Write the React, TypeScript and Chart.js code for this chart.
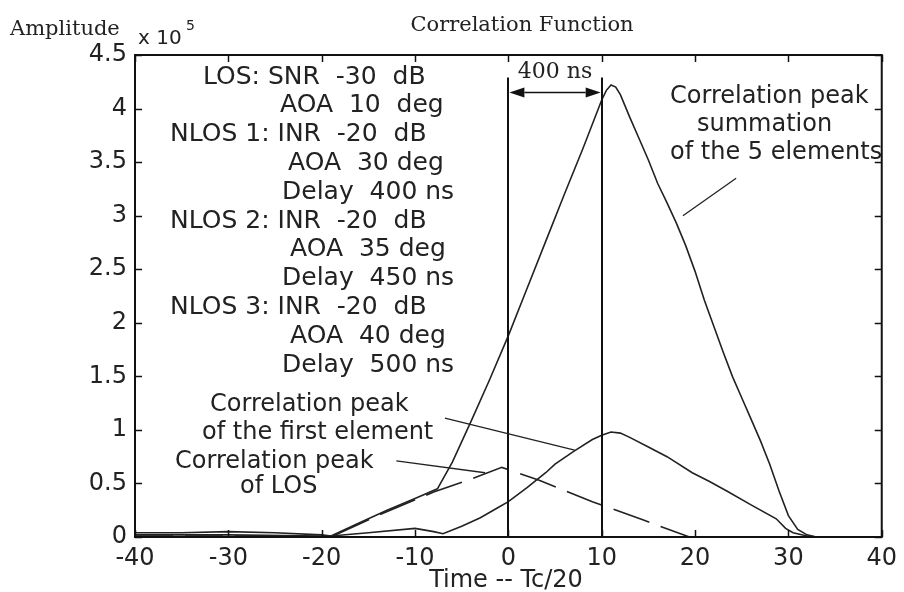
import React, { useEffect, useRef } from "react";
import { Chart, registerables } from "chart.js";

Chart.register(...registerables);

// ---- data ----
const xTicks = [-40, -30, -20, -10, 0, 10, 20, 30, 40];
const yTicks = [0, 0.5, 1, 1.5, 2, 2.5, 3, 3.5, 4, 4.5];

// Correlation peak summation of the 5 elements (x 10^5)
const sumX = [-40, -35, -30, -25, -20, -19, -16, -13, -10, -7.6, -6, -4, -2, 0, 2, 4, 6, 8, 10, 10.5, 11, 11.5, 12, 13, 14, 15, 16, 17, 18, 19, 20, 21, 22, 23, 24, 25, 26, 27, 28, 29, 30, 31, 32, 33, 40];
const sumY = [0.04, 0.04, 0.05, 0.04, 0.02, 0.01, 0.13, 0.25, 0.36, 0.45, 0.7, 1.08, 1.47, 1.88, 2.32, 2.76, 3.2, 3.63, 4.08, 4.17, 4.22, 4.2, 4.13, 3.92, 3.72, 3.52, 3.3, 3.12, 2.93, 2.72, 2.48, 2.21, 1.97, 1.73, 1.5, 1.3, 1.1, 0.9, 0.68, 0.43, 0.2, 0.07, 0.02, 0, 0];

// Correlation peak of the first element
const firstX = [-40, -30, -20, -19, -15, -10, -8, -7, -5, -3, -1, 0, 2, 4, 5, 7, 9, 10, 11, 12, 13, 15, 17, 19.7, 21.5, 23.4, 26, 28.7, 29.7, 30.5, 32, 33, 40];
const firstY = [0.02, 0.02, 0.01, 0.01, 0.04, 0.08, 0.05, 0.03, 0.1, 0.18, 0.28, 0.33, 0.46, 0.6, 0.68, 0.8, 0.91, 0.95, 0.98, 0.97, 0.93, 0.84, 0.75, 0.6, 0.52, 0.43, 0.3, 0.17, 0.08, 0.04, 0.01, 0, 0];

// Correlation peak of LOS (dashed)
const losX = [-40, -30, -19, -14, -8, -4, -0.7, 3.3, 9, 14.4, 19.4, 20, 40];
const losY = [0.01, 0.01, 0, 0.2, 0.42, 0.54, 0.65, 0.53, 0.33, 0.16, 0, 0, 0];

// delay markers (x) and the height they reach
const markerX = [0, 10];
const markerTop = 4.29;
const arrowLevel = 4.15;

const titleText = "Correlation Function";
const yLabelText = "Amplitude";
const xLabelText = "Time -- Tc/20";
const delayText = "400 ns";

const infoLines = [
  "LOS: SNR  -30  dB",
  "AOA  10  deg",
  "NLOS 1: INR  -20  dB",
  "AOA  30 deg",
  "Delay  400 ns",
  "NLOS 2: INR  -20  dB",
  "AOA  35 deg",
  "Delay  450 ns",
  "NLOS 3: INR  -20  dB",
  "AOA  40 deg",
  "Delay  500 ns",
];
const infoLeft = [203, 280, 170, 288, 282, 170, 290, 282, 170, 290, 282];

const sumLabel = ["Correlation peak", "summation", "of the 5 elements"];
const firstLabel = ["Correlation peak", "of the first element"];
const losLabel = ["Correlation peak", "of LOS"];

// pointer lines in data coords [x1, y1, x2, y2]
const sumPointer = [24.4, 3.35, 18.7, 3.0];
const firstPointer = [-6.8, 1.11, 7.1, 0.81];
const losPointer = [-12, 0.71, -2.5, 0.6];

const toPts = (xs: number[], ys: number[]) => xs.map((x, i) => ({ x, y: ys[i] }));

const SANS = "'DejaVu Sans', sans-serif";
const SERIF = "'DejaVu Serif', serif";
const INK = "#222";

const decorPlugin = {
  id: "decor",
  afterDraw(chart: any) {
    const { ctx, chartArea: ca, scales } = chart;
    const xs = scales.x;
    const ys = scales.y;
    ctx.save();

    // box
    ctx.strokeStyle = "#111";
    ctx.lineWidth = 2;
    ctx.strokeRect(ca.left, ca.top, ca.right - ca.left, ca.bottom - ca.top);

    // inward ticks
    ctx.lineWidth = 1.5;
    const tl = 7;
    ctx.beginPath();
    xTicks.forEach((v) => {
      const px = Math.round(xs.getPixelForValue(v)) + 0.5;
      ctx.moveTo(px, ca.bottom);
      ctx.lineTo(px, ca.bottom - tl);
      ctx.moveTo(px, ca.top);
      ctx.lineTo(px, ca.top + tl);
    });
    yTicks.forEach((v) => {
      const py = Math.round(ys.getPixelForValue(v)) + 0.5;
      ctx.moveTo(ca.left, py);
      ctx.lineTo(ca.left + tl, py);
      ctx.moveTo(ca.right, py);
      ctx.lineTo(ca.right - tl, py);
    });
    ctx.stroke();

    // delay markers
    ctx.lineWidth = 2;
    ctx.strokeStyle = "#111";
    ctx.beginPath();
    markerX.forEach((v) => {
      const px = Math.round(xs.getPixelForValue(v));
      ctx.moveTo(px, ys.getPixelForValue(0));
      ctx.lineTo(px, ys.getPixelForValue(markerTop));
    });
    ctx.stroke();

    // double arrow
    const ax1 = xs.getPixelForValue(markerX[0]);
    const ax2 = xs.getPixelForValue(markerX[1]);
    const ay = ys.getPixelForValue(arrowLevel);
    const ah = 16;
    const aw = 5;
    ctx.lineWidth = 1.5;
    ctx.beginPath();
    ctx.moveTo(ax1 + ah, ay);
    ctx.lineTo(ax2 - ah, ay);
    ctx.stroke();
    ctx.fillStyle = "#111";
    ctx.beginPath();
    ctx.moveTo(ax1 + 1, ay);
    ctx.lineTo(ax1 + ah, ay - aw);
    ctx.lineTo(ax1 + ah, ay + aw);
    ctx.closePath();
    ctx.fill();
    ctx.beginPath();
    ctx.moveTo(ax2 - 1, ay);
    ctx.lineTo(ax2 - ah, ay - aw);
    ctx.lineTo(ax2 - ah, ay + aw);
    ctx.closePath();
    ctx.fill();

    // pointer lines
    ctx.lineWidth = 1.3;
    ctx.strokeStyle = "#222";
    [sumPointer, firstPointer, losPointer].forEach((p) => {
      ctx.beginPath();
      ctx.moveTo(xs.getPixelForValue(p[0]), ys.getPixelForValue(p[1]));
      ctx.lineTo(xs.getPixelForValue(p[2]), ys.getPixelForValue(p[3]));
      ctx.stroke();
    });

    // texts
    ctx.fillStyle = INK;
    ctx.textBaseline = "alphabetic";
    ctx.textAlign = "left";
    ctx.font = `21px ${SERIF}`;
    ctx.fillText(yLabelText, 10, 35);
    ctx.textAlign = "center";
    ctx.fillText(titleText, 522, 31);

    ctx.textAlign = "left";
    ctx.font = `20px ${SANS}`;
    ctx.fillText("x 10", 138, 44);
    ctx.font = `14px ${SANS}`;
    ctx.fillText("5", 186, 30);

    ctx.textAlign = "center";
    ctx.font = `22px ${SERIF}`;
    ctx.fillText(delayText, (ax1 + ax2) / 2, 78);

    ctx.font = `24px ${SANS}`;
    ctx.textBaseline = "middle";
    ctx.fillText(xLabelText, 506, 581);

    ctx.textAlign = "left";
    ctx.font = `25px ${SANS}`;
    infoLines.forEach((t, i) => {
      ctx.fillText(t, infoLeft[i], 77 + i * 28.8);
    });

    ctx.font = `24px ${SANS}`;
    ctx.fillText(sumLabel[0], 670, 97);
    ctx.fillText(sumLabel[1], 697, 125);
    ctx.fillText(sumLabel[2], 670, 153);
    ctx.fillText(firstLabel[0], 210, 405);
    ctx.fillText(firstLabel[1], 202, 433);
    ctx.fillText(losLabel[0], 175, 462);
    ctx.fillText(losLabel[1], 240, 487);

    ctx.restore();
  },
};

export default function App() {
  const ref = useRef<HTMLCanvasElement | null>(null);
  useEffect(() => {
    if (!ref.current) return;
    const lineBase = {
      borderColor: "#222",
      borderWidth: 1.6,
      pointRadius: 0,
      tension: 0,
      fill: false,
    };
    const chart = new Chart(ref.current, {
      type: "line",
      data: {
        datasets: [
          { ...lineBase, label: "summation", data: toPts(sumX, sumY) },
          { ...lineBase, label: "first element", data: toPts(firstX, firstY) },
          { ...lineBase, label: "LOS", data: toPts(losX, losY), borderDash: [38, 12] },
        ],
      },
      options: {
        responsive: false,
        animation: false,
        layout: { padding: { top: 55, right: 17, left: 0, bottom: 0 } },
        plugins: { legend: { display: false }, tooltip: { enabled: false }, title: { display: false } },
        scales: {
          x: {
            type: "linear",
            min: -40,
            max: 40,
            afterBuildTicks: (s: any) => {
              s.ticks = xTicks.map((v) => ({ value: v }));
            },
            afterFit: (s: any) => {
              s.height = 55;
            },
            grid: { display: false, drawTicks: false },
            border: { display: false },
            ticks: {
              padding: 7,
              color: INK,
              font: { family: SANS, size: 24 },
              callback: (v: any) => String(v),
              maxRotation: 0,
              autoSkip: false,
            },
          },
          y: {
            type: "linear",
            min: 0,
            max: 4.5,
            afterBuildTicks: (s: any) => {
              s.ticks = yTicks.map((v) => ({ value: v }));
            },
            afterFit: (s: any) => {
              s.width = 135;
            },
            grid: { display: false, drawTicks: false },
            border: { display: false },
            ticks: {
              padding: 8,
              color: INK,
              font: { family: SANS, size: 24 },
              callback: (v: any) => String(v),
              autoSkip: false,
            },
          },
        },
      },
      plugins: [decorPlugin],
    });
    return () => chart.destroy();
  }, []);
  return (
    <div style={{ position: "fixed", left: 0, top: 0, width: 904, height: 592, background: "#fff" }}>
      <canvas ref={ref} width={904} height={592} style={{ width: 904, height: 592, display: "block" }} />
    </div>
  );
}
